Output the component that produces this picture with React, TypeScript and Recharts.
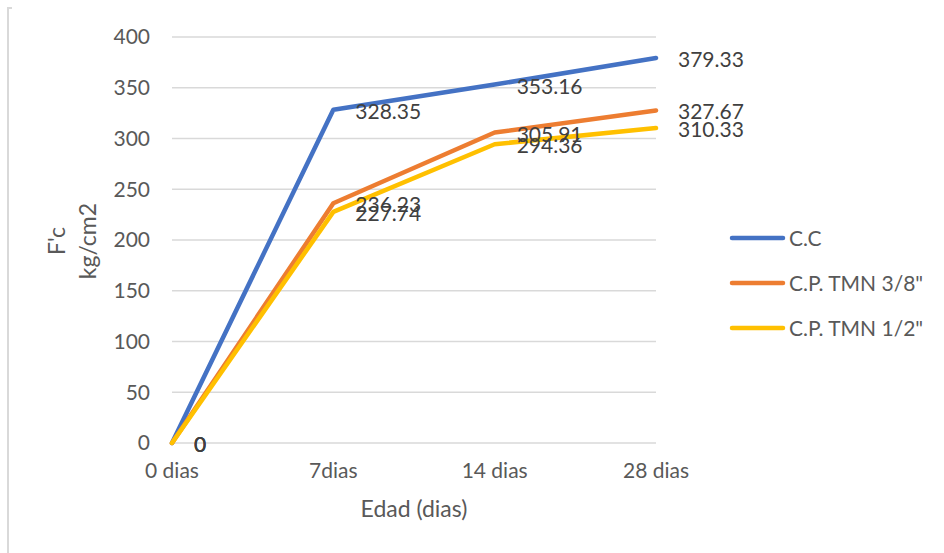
import React from 'react';
import { LineChart, Line, XAxis, YAxis, CartesianGrid, Legend, LabelList } from 'recharts';

// Compressive strength (kg/cm2) by curing age
const EDADES = ['0 dias', '7dias', '14 dias', '28 dias'];
const CC = [0, 328.35, 353.16, 379.33];
const TMN_38 = [0, 236.23, 305.91, 327.67];
const TMN_12 = [0, 227.74, 294.36, 310.33];
const Y_TICKS = [0, 50, 100, 150, 200, 250, 300, 350, 400];

const SERIES = [
  { key: 'cc', name: 'C.C', color: '#4472C4' },
  { key: 'tmn38', name: 'C.P. TMN 3/8"', color: '#ED7D31' },
  { key: 'tmn12', name: 'C.P. TMN 1/2"', color: '#FFC000' },
];

const data = EDADES.map((edad, i) => ({
  edad,
  cc: CC[i],
  tmn38: TMN_38[i],
  tmn12: TMN_12[i],
}));

const FONT = 'Lato, "Open Sans", sans-serif';
const AXIS_GREY = '#595959';
const LABEL_GREY = '#404040';

const ValueLabel = (props: any) => {
  const { x, y, value } = props;
  return (
    <text x={x + 22} y={y + 9} fill={LABEL_GREY} fontSize={21} fontFamily={FONT} textAnchor="start">
      {value}
    </text>
  );
};

const YTitle = () => (
  <g fill={AXIS_GREY} fontSize={23} fontFamily={FONT}>
    <text x={65} y={241} textAnchor="middle" transform="rotate(-90, 65, 241)">F'c</text>
    <text x={96} y={241} textAnchor="middle" transform="rotate(-90, 96, 241)">kg/cm2</text>
  </g>
);

const XTitle = (props: any) => {
  const { viewBox } = props;
  return (
    <text
      x={viewBox.x + viewBox.width / 2}
      y={viewBox.y + 74}
      fill={AXIS_GREY}
      fontSize={23}
      fontFamily={FONT}
      textAnchor="middle"
    >
      Edad (dias)
    </text>
  );
};

const LegendBox = () => (
  <svg width={224} height={140} style={{ display: 'block' }}>
    {SERIES.map((s, i) => {
      const cy = 23 + i * 45;
      return (
        <g key={s.key}>
          <line x1={14} x2={65} y1={cy} y2={cy} stroke={s.color} strokeWidth={4.5} strokeLinecap="round" />
          <text x={71} y={cy + 7.5} fill={AXIS_GREY} fontSize={21} fontFamily={FONT}>
            {s.name}
          </text>
        </g>
      );
    })}
  </svg>
);

export default function App() {
  return (
    <div style={{ position: 'absolute', left: 0, top: 0, width: 944, height: 553, background: '#fff' }}>
      {/* chart frame, only its left edge shows */}
      <div style={{ position: 'absolute', left: 7, top: 7, width: 2, height: 546, background: '#d9d9d9' }} />
      <div style={{ position: 'absolute', left: 7, top: 7, width: 5, height: 2, background: '#d9d9d9' }} />
      <LineChart
        width={944}
        height={553}
        data={data}
        margin={{ top: 37, right: 288, bottom: 0, left: 0 }}
        style={{ fontFamily: FONT }}
      >
        <CartesianGrid vertical={false} stroke="#d9d9d9" strokeWidth={1.5} />
        <XAxis
          dataKey="edad"
          height={110}
          axisLine={false}
          tickLine={false}
          tickSize={0}
          tickMargin={20}
          interval={0}
          tick={{ fill: AXIS_GREY, fontSize: 21, fontFamily: FONT }}
          label={{ content: <XTitle /> }}
        />
        <YAxis
          width={172}
          domain={[0, 400]}
          ticks={Y_TICKS}
          axisLine={false}
          tickLine={false}
          tickSize={0}
          tickMargin={22}
          tick={{ fill: AXIS_GREY, fontSize: 21, fontFamily: FONT }}
          label={{ content: <YTitle /> }}
        />
        <Legend
          layout="vertical"
          align="center"
          verticalAlign="middle"
          wrapperStyle={{ left: 718, top: 215, width: 224, height: 140 }}
          content={<LegendBox />}
        />
        {SERIES.map((s) => (
          <Line
            key={s.key}
            type="linear"
            dataKey={s.key}
            name={s.name}
            stroke={s.color}
            strokeWidth={4.5}
            strokeLinejoin="round"
            strokeLinecap="round"
            dot={false}
            activeDot={false}
            isAnimationActive={false}
          />
        ))}
        {/* value labels drawn after every line so they sit on top */}
        {SERIES.map((s) => (
          <Line
            key={`${s.key}-labels`}
            type="linear"
            dataKey={s.key}
            stroke="none"
            legendType="none"
            dot={false}
            activeDot={false}
            isAnimationActive={false}
          >
            <LabelList dataKey={s.key} content={<ValueLabel />} />
          </Line>
        ))}
      </LineChart>
    </div>
  );
}
